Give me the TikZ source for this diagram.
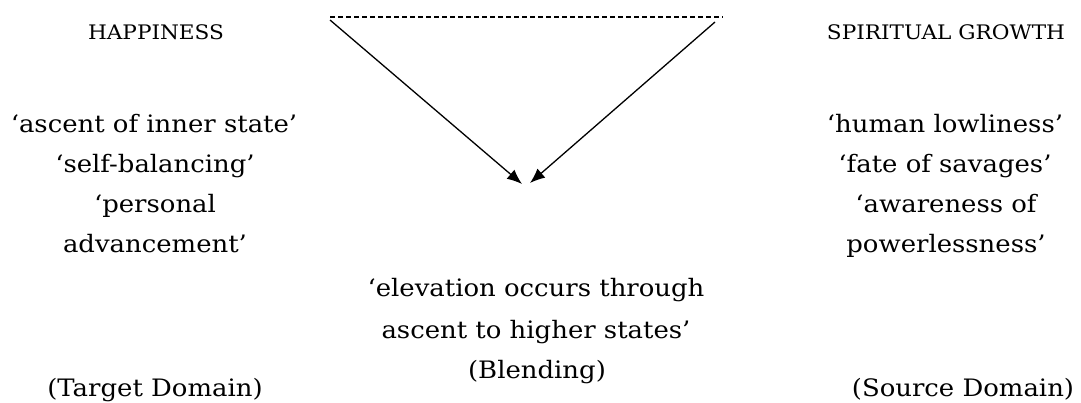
\documentclass[tikz,border=0pt]{standalone}
\usepackage{fontspec}
\setmainfont[FakeStretch=1.08]{DejaVu Serif}
\usetikzlibrary{arrows.meta}
\tikzset{
  body/.style={inner sep=0pt, anchor=base, font=\fontsize{24}{29}\selectfont},
  head/.style={inner sep=0pt, anchor=base, font=\fontsize{20}{24}\selectfont},
  conn/.style={line width=1.3pt, -{Latex[length=15pt,width=12pt]}},
  topline/.style={line width=1.3pt, dash pattern=on 5pt off 3pt}
}
\begin{document}
\begin{tikzpicture}[x=1pt,y=-1pt]
\useasboundingbox (0,0) rectangle (1081,403);
% headings
\node[head] (hap) at (156,40) {HAPPINESS};
\node[head] (spi) at (946,40) {SPIRITUAL GROWTH};
% left group
\node[body] (l1) at (154,133) {‘ascent of inner state’};
\node[body] (l2) at (155,173) {‘self-balancing’};
\node[body] (l3) at (155,213) {‘personal};
\node[body] (l4) at (155,253) {advancement’};
% right group
\node[body] (r1) at (945,133) {‘human lowliness’};
\node[body] (r2) at (945,173) {‘fate of savages’};
\node[body] (r3) at (946,213) {‘awareness of};
\node[body] (r4) at (946,253) {powerlessness’};
% center
\node[body] (c1) at (536,297) {‘elevation occurs through};
\node[body] (c2) at (536,338) {ascent to higher states’};
\node[body] (c3) at (537,378) {(Blending)};
% domains
\node[body] (td) at (155,396) {(Target Domain)};
\node[body] (sd) at (963,396) {(Source Domain)};
% connectors
\coordinate (tl) at (330,17);
\coordinate (tr) at (723,17);
\coordinate (sl) at (330,20);
\coordinate (sr) at (715,22);
\coordinate (el) at (522,184);
\coordinate (er) at (530,183);
\draw[topline] (tl) -- (tr);
\draw[conn] (sl) -- (el);
\draw[conn] (sr) -- (er);
\end{tikzpicture}
\end{document}
